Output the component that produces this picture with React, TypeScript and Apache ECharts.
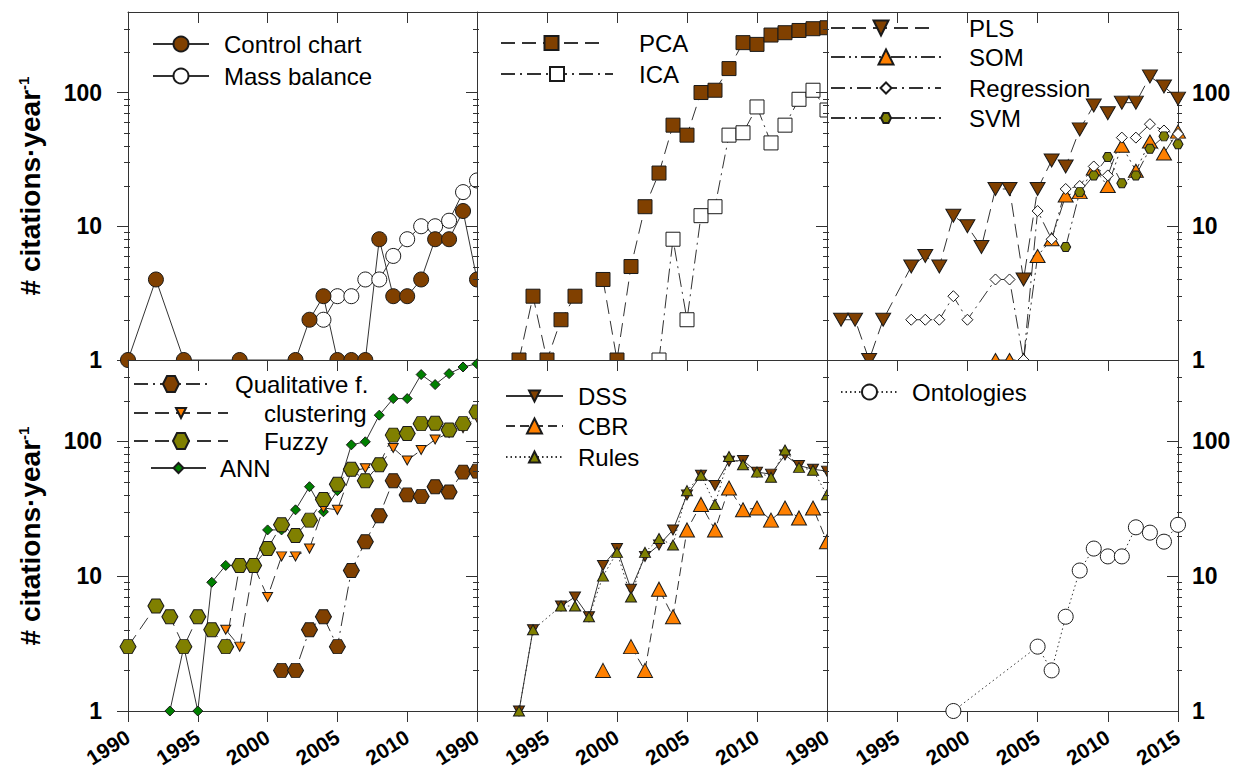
import React, { useEffect, useRef } from 'react';
import * as echarts from 'echarts';

const FONT = '"Liberation Sans", Arial, Helvetica, sans-serif';
const BROWN = '#804000';
const ORANGE = '#ff8000';
const OLIVE = '#808000';
const GREEN = '#008000';
const WHITE = '#ffffff';
const LINE = '#333333';
const EDGE = '#1a1a1a';

const DOWN_TRI = 'path://M0,0L10,0L5,8.7Z';
const HEXAGON = 'path://M0,4.33L2.5,0L7.5,0L10,4.33L7.5,8.66L2.5,8.66Z';

const SOLID = 'solid';
const LONG_DASH = [14, 7];
const DASH = [9, 5];
const DASH_DOT = [14, 5, 2, 5];
const DASH_DOT_DOT = [14, 4, 2, 4, 2, 4];
const DOTTED = [1.5, 3];

// ---- data (year, citations per year) ----
const controlChart = [[1990, 1], [1992, 4], [1994, 1], [1998, 1], [2002, 1], [2003, 2], [2004, 3], [2005, 1], [2006, 1], [2007, 1], [2008, 8], [2009, 3], [2010, 3], [2011, 4], [2012, 8], [2013, 8], [2014, 13], [2015, 4]];
const massBalance = [[2004, 2], [2005, 3], [2006, 3], [2007, 4], [2008, 4], [2009, 6], [2010, 8], [2011, 10], [2012, 10], [2013, 11], [2014, 18], [2015, 22]];

const pca = [[1993, 1], [1994, 3], [1995, 1], [1996, 2], [1997, 3], [1998, '-'], [1999, 4], [2000, 1], [2001, 5], [2002, 14], [2003, 25], [2004, 57], [2005, 48], [2006, 100], [2007, 104], [2008, 151], [2009, 236], [2010, 229], [2011, 269], [2012, 280], [2013, 291], [2014, 300], [2015, 305]];
const ica = [[2003, 1], [2004, 8], [2005, 2], [2006, 12], [2007, 14], [2008, 48], [2009, 50], [2010, 78], [2011, 42], [2012, 57], [2013, 89], [2014, 104], [2015, 74]];

const pls = [[1991, 2], [1992, 2], [1993, 1], [1994, 2], [1996, 5], [1997, 6], [1998, 5], [1999, 12], [2000, 10], [2001, 7], [2002, 19], [2003, 19], [2004, 4], [2005, 19], [2006, 31], [2007, 28], [2008, 53], [2009, 80], [2010, 70], [2011, 84], [2012, 84], [2013, 132], [2014, 111], [2015, 90]];
const som = [[2002, 1], [2003, 1], [2004, 1], [2005, 6], [2006, 8], [2007, 17], [2008, 18], [2009, 27], [2010, 20], [2011, 40], [2012, 26], [2013, 43], [2014, 35], [2015, 51]];
const regression = [[1996, 2], [1997, 2], [1998, 2], [1999, 3], [2000, 2], [2002, 4], [2003, 4], [2004, 1], [2005, 13], [2006, 8], [2007, 19], [2008, 20], [2009, 28], [2010, 24], [2011, 46], [2012, 46], [2013, 58], [2014, 52], [2015, 49]];
const svm = [[2007, 7], [2008, 18], [2009, 24], [2010, 33], [2011, 21], [2012, 24], [2013, 38], [2014, 47], [2015, 41]];

const qualitative = [[2001, 2], [2002, 2], [2003, 4], [2004, 5], [2005, 3], [2006, 11], [2007, 18], [2008, 28], [2009, 51], [2010, 40], [2011, 39], [2012, 46], [2013, 42], [2014, 59], [2015, 60]];
const clustering = [[1997, 4], [1998, 3], [1999, 12], [2000, 7], [2001, 14], [2002, 14], [2003, 16], [2004, 32], [2005, 31], [2006, 60], [2007, 63], [2008, 66], [2009, 89], [2010, 72], [2011, 86], [2012, 103], [2013, 115], [2014, 125], [2015, 150]];
const fuzzy = [[1990, 3], [1992, 6], [1993, 5], [1994, 3], [1995, 5], [1996, 4], [1997, 3], [1998, 12], [1999, 12], [2000, 16], [2001, 24], [2002, 20], [2003, 26], [2004, 37], [2005, 48], [2006, 62], [2007, 51], [2008, 67], [2009, 111], [2010, 114], [2011, 135], [2012, 136], [2013, 121], [2014, 135], [2015, 165]];
const ann = [[1993, 1], [1994, 3], [1995, 1], [1996, 9], [1997, 12], [1998, 12], [1999, 12], [2000, 22], [2001, 22], [2002, 31], [2003, 46], [2004, 30], [2005, 43], [2006, 94], [2007, 99], [2008, 156], [2009, 207], [2010, 207], [2011, 312], [2012, 263], [2013, 317], [2014, 355], [2015, 375]];

const dss = [[1993, 1], [1994, 4], [1995, '-'], [1996, 6], [1997, 7], [1998, 5], [1999, 12], [2000, 16], [2001, 8], [2002, 14], [2003, 17], [2004, 22], [2005, 40], [2006, 56], [2007, 47], [2008, 71], [2009, 72], [2010, 59], [2011, 57], [2012, 79], [2013, 66], [2014, 62], [2015, 60]];
const cbr = [[1999, 2], [2000, '-'], [2001, 3], [2002, 2], [2003, 8], [2004, 5], [2005, 22], [2006, 34], [2007, 22], [2008, 45], [2009, 31], [2010, 32], [2011, 26], [2012, 32], [2013, 27], [2014, 32], [2015, 18]];
const rules = [[1993, 1], [1994, 4], [1996, 6], [1997, 6], [1998, 5], [1999, 10], [2000, 15], [2001, 7], [2002, 15], [2003, 19], [2004, 17], [2005, 43], [2006, 56], [2007, 34], [2008, 77], [2009, 67], [2010, 59], [2011, 54], [2012, 86], [2013, 64], [2014, 61], [2015, 40]];

const ontologies = [[1999, 1], [2005, 3], [2006, 2], [2007, 5], [2008, 11], [2009, 16], [2010, 14], [2011, 14], [2012, 23], [2013, 21], [2014, 18], [2015, 24]];

const yearMin = 1990;
const yearMax = 2015;
const yearStep = 5;
const yMin = 1;
const yMax = 400;
const yTicks = [1, 10, 100];
const yMinorTicks = [2, 3, 4, 5, 6, 7, 8, 9, 20, 30, 40, 50, 60, 70, 80, 90, 200, 300];
const yTitle = '# citations·year';
const yTitleSup = '-1';

// ---- layout ----
const panelLayout = [
  { left: 128, top: 12, width: 349, height: 348, row: 0, col: 0 },
  { left: 477, top: 12, width: 350, height: 348, row: 0, col: 1 },
  { left: 827, top: 12, width: 351, height: 348, row: 0, col: 2 },
  { left: 128, top: 360, width: 349, height: 351, row: 1, col: 0 },
  { left: 477, top: 360, width: 350, height: 351, row: 1, col: 1 },
  { left: 827, top: 360, width: 351, height: 351, row: 1, col: 2 },
];

type Spec = { name: string; data: any[]; symbol: string; size: number | number[]; fill: string; line: any };

const panelSeries: Spec[][] = [
  [
    { name: 'Mass balance', data: massBalance, symbol: 'circle', size: 15, fill: WHITE, line: SOLID },
    { name: 'Control chart', data: controlChart, symbol: 'circle', size: 15, fill: BROWN, line: SOLID },
  ],
  [
    { name: 'PCA', data: pca, symbol: 'rect', size: 14, fill: BROWN, line: LONG_DASH },
    { name: 'ICA', data: ica, symbol: 'rect', size: 14, fill: WHITE, line: DASH_DOT },
  ],
  [
    { name: 'PLS', data: pls, symbol: DOWN_TRI, size: [15, 13], fill: BROWN, line: LONG_DASH },
    { name: 'SOM', data: som, symbol: 'triangle', size: [15, 13], fill: ORANGE, line: DASH_DOT_DOT },
    { name: 'Regression', data: regression, symbol: 'diamond', size: 11, fill: WHITE, line: DASH_DOT },
    { name: 'SVM', data: svm, symbol: HEXAGON, size: [10, 9], fill: OLIVE, line: DASH_DOT_DOT },
  ],
  [
    { name: 'ANN', data: ann, symbol: 'diamond', size: 10, fill: GREEN, line: SOLID },
    { name: 'clustering', data: clustering, symbol: DOWN_TRI, size: [10, 9], fill: ORANGE, line: LONG_DASH },
    { name: 'Qualitative f.', data: qualitative, symbol: HEXAGON, size: [16, 14], fill: BROWN, line: DASH_DOT },
    { name: 'Fuzzy', data: fuzzy, symbol: HEXAGON, size: [16, 14], fill: OLIVE, line: LONG_DASH },
  ],
  [
    { name: 'DSS', data: dss, symbol: DOWN_TRI, size: [11, 10], fill: BROWN, line: SOLID },
    { name: 'CBR', data: cbr, symbol: 'triangle', size: [15, 14], fill: ORANGE, line: DASH },
    { name: 'Rules', data: rules, symbol: 'triangle', size: [11, 10], fill: OLIVE, line: DOTTED },
  ],
  [
    { name: 'Ontologies', data: ontologies, symbol: 'circle', size: 15, fill: WHITE, line: DOTTED },
  ],
];

// legend placement: line start, line end, centre y, text start
const legendItems = [
  { name: 'Control chart', x0: 152, x1: 208, cy: 44, tx: 223 },
  { name: 'Mass balance', x0: 152, x1: 208, cy: 76, tx: 223 },
  { name: 'PCA', x0: 500, x1: 601, cy: 43, tx: 638 },
  { name: 'ICA', x0: 500, x1: 612, cy: 74, tx: 638 },
  { name: 'PLS', x0: 830, x1: 930, cy: 28, tx: 968 },
  { name: 'SOM', x0: 830, x1: 940, cy: 57, tx: 968 },
  { name: 'Regression', x0: 830, x1: 940, cy: 88, tx: 968 },
  { name: 'SVM', x0: 830, x1: 940, cy: 118, tx: 968 },
  { name: 'Qualitative f.', x0: 133, x1: 207, cy: 384, tx: 234 },
  { name: 'clustering', x0: 133, x1: 227, cy: 413, tx: 263 },
  { name: 'Fuzzy', x0: 133, x1: 227, cy: 441, tx: 263 },
  { name: 'ANN', x0: 150, x1: 205, cy: 468, tx: 219 },
  { name: 'DSS', x0: 505, x1: 562, cy: 396, tx: 577 },
  { name: 'CBR', x0: 505, x1: 562, cy: 426, tx: 577 },
  { name: 'Rules', x0: 505, x1: 562, cy: 457, tx: 577 },
  { name: 'Ontologies', x0: 840, x1: 897, cy: 392, tx: 911 },
];

function buildOption() {
  const grid: any[] = [];
  const xAxis: any[] = [];
  const yAxis: any[] = [];
  const series: any[] = [];
  const legend: any[] = [];
  const graphic: any[] = [];
  const allSpecs: Spec[] = [];

  panelLayout.forEach((p, i) => {
    const base = 1 + 3 * i;
    const bottomRow = p.row === 1;
    const isLast = i === panelLayout.length - 1;
    grid.push({
      left: p.left, top: p.top, width: p.width, height: p.height, show: false,
      containLabel: false, outerBoundsMode: 'none',
    });
    // white panel face, stacked so that each panel hides the overflow of earlier ones
    graphic.push({
      type: 'rect', silent: true, z: base,
      shape: { x: p.left, y: p.top, width: p.width, height: p.height },
      style: { fill: '#ffffff', stroke: null },
    });
    const axisLine = { show: true, onZero: false, lineStyle: { color: LINE, width: 1 } };
    const xb = xAxis.length;
    xAxis.push({
      gridIndex: i, type: 'value', position: 'bottom', min: yearMin, max: yearMax, interval: yearStep, z: base + 1,
      axisLine,
      axisTick: { show: bottomRow, inside: false, length: 11, lineStyle: { color: LINE } },
      axisLabel: {
        show: bottomRow, rotate: 32, margin: 24, fontSize: 21, fontWeight: 'bold', color: '#000', fontFamily: FONT,
        formatter: (v: number) => (v === yearMax && !isLast ? '' : String(v)),
      },
      splitLine: { show: false },
    });
    xAxis.push({
      gridIndex: i, type: 'value', position: 'top', min: yearMin, max: yearMax, interval: yearStep, z: base + 1,
      axisLine,
      axisTick: { show: true, inside: true, length: 11, lineStyle: { color: LINE } },
      axisLabel: { show: false },
      splitLine: { show: false },
    });
    const yl = yAxis.length;
    yAxis.push({
      gridIndex: i, type: 'log', logBase: 10, min: yMin, max: yMax, position: 'left', z: base + 1,
      axisLine,
      axisTick: { show: true, inside: false, length: 11, customValues: yTicks, lineStyle: { color: LINE } },
      axisLabel: {
        show: p.col === 0, customValues: yTicks, margin: 26, fontSize: 23, fontWeight: 'bold', color: '#000', fontFamily: FONT,
        formatter: (v: number) => String(v),
      },
      splitLine: { show: false },
      minorTick: { show: false },
    });
    const minorData: number[][] = yMinorTicks.map((v) => [yearMin, v, -1]);
    if (p.col === 2) {
      yAxis.push({
        gridIndex: i, type: 'log', logBase: 10, min: yMin, max: yMax, position: 'right', z: base + 1,
        axisLine,
        axisTick: { show: true, inside: true, length: 11, customValues: yTicks, lineStyle: { color: LINE } },
        axisLabel: {
          show: true, customValues: yTicks, margin: 14, fontSize: 23, fontWeight: 'bold', color: '#000', fontFamily: FONT,
          formatter: (v: number) => String(v),
        },
        splitLine: { show: false },
        minorTick: { show: false },
      });
      yMinorTicks.forEach((v) => minorData.push([yearMax, v, 1]));
    }
    series.push({
      type: 'custom', xAxisIndex: xb, yAxisIndex: yl, data: minorData, clip: false, silent: true, z: base + 1,
      renderItem: (_params: any, api: any) => {
        const pt = api.coord([api.value(0), api.value(1)]);
        const d = api.value(2);
        const y = Math.round(pt[1]) + 0.5;
        const x = Math.round(pt[0]);
        return {
          type: 'line',
          shape: d < 0 ? { x1: x - 4, y1: y, x2: x + 2, y2: y } : { x1: x - 1, y1: y, x2: x + 4, y2: y },
          style: { stroke: LINE, lineWidth: 1 },
        };
      },
    });
    panelSeries[i].forEach((s) => {
      allSpecs.push(s);
      series.push({
        type: 'line', name: s.name, xAxisIndex: xb, yAxisIndex: yl, data: s.data,
        symbol: s.symbol, symbolSize: s.size, showSymbol: true, clip: false, connectNulls: false,
        z: base + 2, silent: true,
        itemStyle: { color: s.fill, borderColor: EDGE, borderWidth: 1, opacity: 1 },
        lineStyle: { color: LINE, width: 1, type: s.line },
        emphasis: { disabled: true },
      });
    });
  });

  legendItems.forEach((li) => {
    const spec = allSpecs.find((s) => s.name === li.name)!;
    const sz = Array.isArray(spec.size) ? Math.max(...spec.size) : spec.size;
    const iconH = sz / 0.8;
    const H = Math.max(iconH, 24);
    legend.push({
      data: [li.name], left: li.x0, top: li.cy - H / 2, orient: 'horizontal',
      itemWidth: li.x1 - li.x0, itemHeight: iconH, padding: 0, itemGap: 0, z: 100,
      selectedMode: false,
      textStyle: { fontSize: 24, fontFamily: FONT, color: '#000', rich: { g: { width: li.tx - li.x1 - 5 } } },
      formatter: (n: string) => `{g|}${n}`,
    });
  });

  [0, 1].forEach((r) => {
    graphic.push({
      type: 'text', x: 30, y: r === 0 ? 186 : 536, rotation: Math.PI / 2, z: 100,
      style: {
        text: `{a|${yTitle}}{b|${yTitleSup}}`,
        align: 'center', verticalAlign: 'middle',
        rich: {
          a: { fontSize: 28, fontWeight: 'bold', fontFamily: FONT, fill: '#000' },
          b: { fontSize: 15, fontWeight: 'bold', fontFamily: FONT, fill: '#000', verticalAlign: 'top' },
        },
      },
    });
  });

  return {
    animation: false,
    backgroundColor: '#ffffff',
    textStyle: { fontFamily: FONT },
    grid, xAxis, yAxis, series, legend, graphic,
  };
}

export default function App() {
  const ref = useRef<HTMLDivElement>(null);
  useEffect(() => {
    document.body.style.margin = '0';
    if (!ref.current) return;
    const chart = echarts.init(ref.current, undefined, { renderer: 'svg' });
    chart.setOption(buildOption() as any);
    return () => chart.dispose();
  }, []);
  return <div ref={ref} style={{ width: 1254, height: 775 }} />;
}
